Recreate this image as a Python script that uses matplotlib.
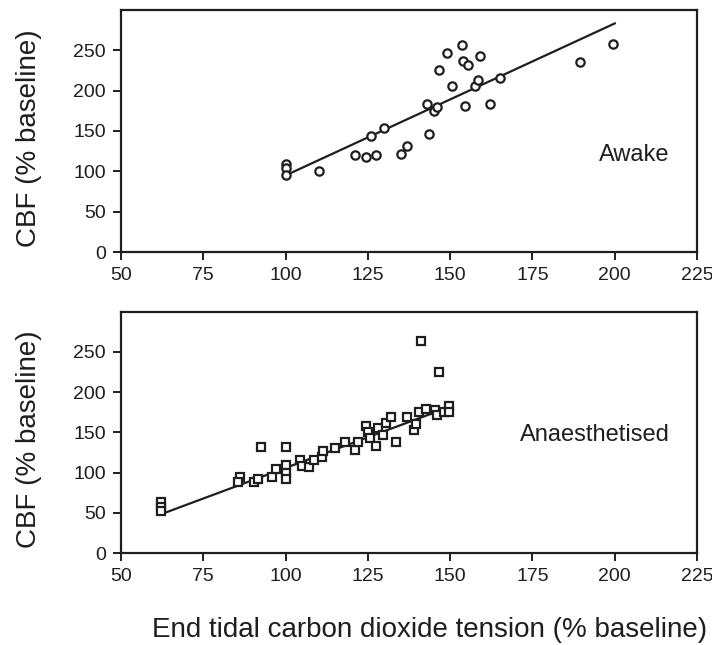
import matplotlib
matplotlib.use("Agg")
import matplotlib.pyplot as plt

plt.rcParams["font.family"] = ["Liberation Sans", "DejaVu Sans"]

# Awake (circles)
awake_x = [100, 100, 100, 110, 121, 124.5, 127.5, 126, 130, 135, 137, 143, 143.5,
           145, 146, 146.5, 149, 150.5, 153.5, 154, 155.5, 154.5, 157.5, 158.5,
           159, 162, 165, 189.5, 199.5]
awake_y = [109, 104, 96, 100, 120, 118, 120, 144, 154, 121, 131, 183, 146,
           175, 180, 225, 247, 205, 256, 237, 231, 181, 205, 213,
           243, 183, 215, 235, 258]
awake_fit_x = [100, 200]
awake_fit_y = [95, 283]

# Anaesthetised (squares)
anaes_x = [62, 62, 62, 86, 85.5, 90.5, 91.5, 92.5, 96, 97, 100, 100, 100, 100,
           104.5, 105, 107, 108.5, 111, 111.5, 115, 118, 121, 122, 124.5, 125,
           125.5, 127.5, 128, 129.5, 130.5, 132, 133.5, 137, 139, 139.5, 140.5,
           142.5, 145.5, 146, 148, 149.5, 149.5, 141, 146.5]
anaes_y = [64, 57, 52, 95, 88, 88, 92, 132, 94, 104, 132, 109, 100, 92,
           116, 108, 107, 116, 120, 127, 130, 138, 128, 138, 158, 151,
           143, 133, 156, 147, 162, 169, 138, 169, 153, 160, 176,
           179, 178, 172, 176, 183, 176, 264, 225]
anaes_fit_x = [62, 150]
anaes_fit_y = [48, 182]

xticks = [50, 75, 100, 125, 150, 175, 200, 225]
yticks = [0, 50, 100, 150, 200, 250]

ink = "#1e1e1e"

fig = plt.figure(figsize=(7.12, 6.45), dpi=100)
ax1 = fig.add_axes([0.170, 0.609, 0.809, 0.376])
ax2 = fig.add_axes([0.170, 0.1426, 0.809, 0.374])

panels = [
    (ax1, awake_x, awake_y, awake_fit_x, awake_fit_y, "o", "Awake", 206, 120),
    (ax2, anaes_x, anaes_y, anaes_fit_x, anaes_fit_y, "s", "Anaesthetised", 194, 147),
]

for ax, x, y, fx, fy, mk, label, lx, ly in panels:
    ax.plot(fx, fy, color=ink, lw=1.6, zorder=2)
    ax.plot(x, y, linestyle="none", marker=mk, markersize=6,
            markerfacecolor="white", markeredgecolor=ink,
            markeredgewidth=1.6, zorder=3)
    ax.set_xlim(50, 225)
    ax.set_ylim(0, 300)
    ax.set_xticks(xticks)
    ax.set_yticks(yticks)
    ax.tick_params(direction="out", length=6, width=1.4, labelsize=14,
                   colors=ink, pad=5)
    for s in ax.spines.values():
        s.set_linewidth(1.6)
        s.set_color(ink)
    ax.set_ylabel("CBF (% baseline)", fontsize=20, color=ink)
    ax.yaxis.set_label_coords(-0.137, 0.47)
    ax.text(lx, ly, label, fontsize=17, ha="center", va="center", color=ink)

ax2.set_xlabel("End tidal carbon dioxide tension (% baseline)", fontsize=20,
               color=ink)
ax2.xaxis.set_label_coords(0.535, -0.265)

fig.savefig("out.png", dpi=100)
